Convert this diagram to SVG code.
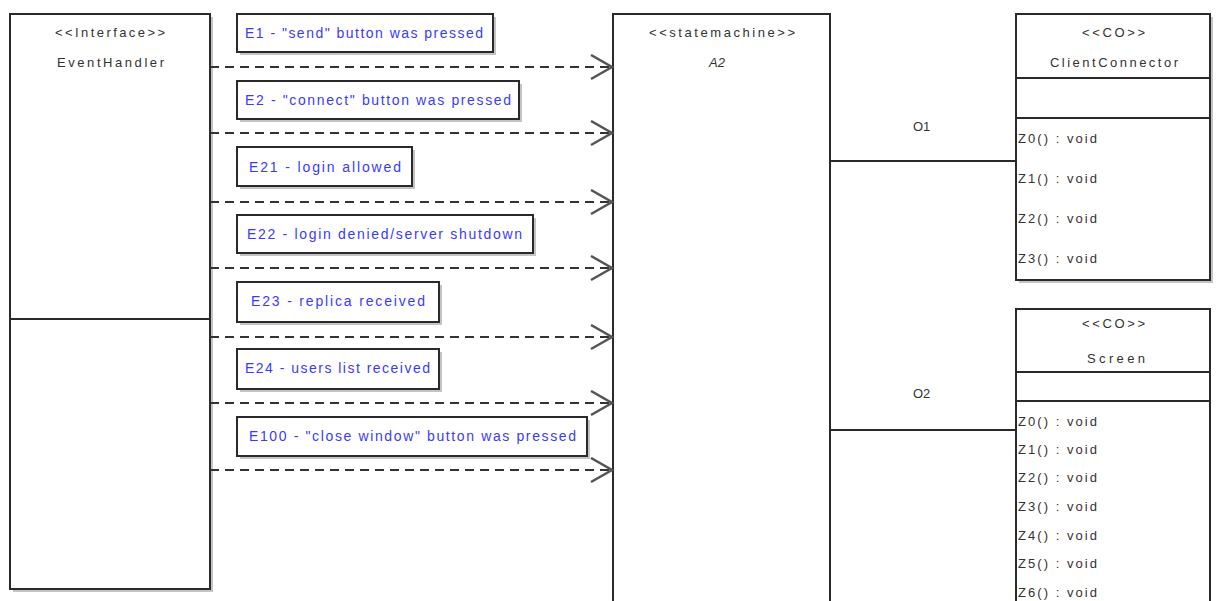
<svg xmlns="http://www.w3.org/2000/svg" width="1216" height="601" viewBox="0 0 1216 601">
<style>
.box{fill:#fff;stroke:#2a2a2a;stroke-width:2}
.shadow{fill:#c4c4c4}
.t{font-family:"Liberation Sans",Arial,sans-serif;font-size:13px;fill:#333}
.lbl{font-family:"Liberation Sans",Arial,sans-serif;font-size:14px;fill:#3a3aff}
.dash{fill:none;stroke:#333;stroke-width:2;stroke-dasharray:9 6}
.line{fill:none;stroke:#2a2a2a;stroke-width:2}
.sep{stroke:#2a2a2a;stroke-width:2}
</style>
<defs>
<marker id="open" markerUnits="userSpaceOnUse" markerWidth="26" markerHeight="30" refX="22" refY="13" orient="auto">
<polyline points="1,1 22,13 1,25" fill="none" stroke="#555" stroke-width="2.5"/>
</marker>
</defs>
<rect width="1216" height="601" fill="#fff"/>

<g id="EventHandler">
<rect class="shadow" x="13" y="17" width="200" height="575"/>
<rect class="box" x="10" y="14" width="200" height="575"/>
<line class="sep" x1="10" y1="319" x2="210" y2="319"/>
<text class="t" x="55" y="37" textLength="110" lengthAdjust="spacing">&lt;&lt;Interface&gt;&gt;</text>
<text class="t" x="57" y="67" textLength="107" lengthAdjust="spacing">EventHandler</text>
</g>

<g id="A2">
<rect class="box" x="613" y="14" width="217" height="600"/>
<text class="t" x="649" y="37" textLength="146" lengthAdjust="spacing">&lt;&lt;statemachine&gt;&gt;</text>
<text class="t" x="709" y="67" font-style="italic">A2</text>
</g>

<g id="ClientConnector">
<rect class="shadow" x="1019" y="17" width="194" height="266"/>
<rect class="box" x="1016" y="14" width="194" height="266"/>
<line class="sep" x1="1016" y1="78" x2="1210" y2="78"/>
<line class="sep" x1="1016" y1="118" x2="1210" y2="118"/>
<text class="t" x="1082" y="37" textLength="63" lengthAdjust="spacing">&lt;&lt;CO&gt;&gt;</text>
<text class="t" x="1050" y="67" textLength="128" lengthAdjust="spacing">ClientConnector</text>
<text class="t" x="1018" y="143" textLength="79" lengthAdjust="spacing">Z0() : void</text>
<text class="t" x="1018" y="183" textLength="79" lengthAdjust="spacing">Z1() : void</text>
<text class="t" x="1018" y="223" textLength="79" lengthAdjust="spacing">Z2() : void</text>
<text class="t" x="1018" y="263" textLength="79" lengthAdjust="spacing">Z3() : void</text>
</g>

<g id="Screen">
<rect class="box" x="1016" y="309" width="194" height="310"/>
<line class="sep" x1="1016" y1="372" x2="1210" y2="372"/>
<line class="sep" x1="1016" y1="401" x2="1210" y2="401"/>
<text class="t" x="1082" y="328" textLength="63" lengthAdjust="spacing">&lt;&lt;CO&gt;&gt;</text>
<text class="t" x="1087" y="363" textLength="58" lengthAdjust="spacing">Screen</text>
<text class="t" x="1018" y="426" textLength="79" lengthAdjust="spacing">Z0() : void</text>
<text class="t" x="1018" y="454" textLength="79" lengthAdjust="spacing">Z1() : void</text>
<text class="t" x="1018" y="482" textLength="79" lengthAdjust="spacing">Z2() : void</text>
<text class="t" x="1018" y="511" textLength="79" lengthAdjust="spacing">Z3() : void</text>
<text class="t" x="1018" y="540" textLength="79" lengthAdjust="spacing">Z4() : void</text>
<text class="t" x="1018" y="568" textLength="79" lengthAdjust="spacing">Z5() : void</text>
<text class="t" x="1018" y="597" textLength="79" lengthAdjust="spacing">Z6() : void</text>
</g>

<g id="connectors">
<path class="dash" d="M210,67 H612" marker-end="url(#open)"/>
<path class="dash" d="M210,133 H612" marker-end="url(#open)"/>
<path class="dash" d="M210,202 H612" marker-end="url(#open)"/>
<path class="dash" d="M210,268 H612" marker-end="url(#open)"/>
<path class="dash" d="M210,337 H612" marker-end="url(#open)"/>
<path class="dash" d="M210,403 H612" marker-end="url(#open)"/>
<path class="dash" d="M210,470 H612" marker-end="url(#open)"/>
<path class="line" d="M830,161 H1016"/>
<path class="line" d="M830,430 H1016"/>
<text class="t" x="913" y="131">O1</text>
<text class="t" x="913" y="398">O2</text>
</g>

<g id="E1">
<rect class="shadow" x="240" y="17" width="256" height="38"/>
<rect class="box" x="237" y="14" width="256" height="38"/>
<text class="lbl" x="245" y="38" textLength="238" lengthAdjust="spacing">E1 - "send" button was pressed</text>
</g>
<g id="E2">
<rect class="shadow" x="240" y="84" width="282" height="38"/>
<rect class="box" x="237" y="81" width="282" height="38"/>
<text class="lbl" x="245" y="105" textLength="266" lengthAdjust="spacing">E2 - "connect" button was pressed</text>
</g>
<g id="E21">
<rect class="shadow" x="240" y="150" width="175" height="39"/>
<rect class="box" x="237" y="147" width="175" height="39"/>
<text class="lbl" x="249" y="172" textLength="152" lengthAdjust="spacing">E21 - login allowed</text>
</g>
<g id="E22">
<rect class="shadow" x="240" y="218" width="296" height="38"/>
<rect class="box" x="237" y="215" width="296" height="38"/>
<text class="lbl" x="247" y="239" textLength="275" lengthAdjust="spacing">E22 - login denied/server shutdown</text>
</g>
<g id="E23">
<rect class="shadow" x="240" y="285" width="202" height="40"/>
<rect class="box" x="237" y="282" width="202" height="40"/>
<text class="lbl" x="251" y="306" textLength="174" lengthAdjust="spacing">E23 - replica received</text>
</g>
<g id="E24">
<rect class="shadow" x="240" y="352" width="202" height="40"/>
<rect class="box" x="237" y="349" width="202" height="40"/>
<text class="lbl" x="245" y="373" textLength="185" lengthAdjust="spacing">E24 - users list received</text>
</g>
<g id="E100">
<rect class="shadow" x="240" y="420" width="350" height="39"/>
<rect class="box" x="237" y="417" width="350" height="39"/>
<text class="lbl" x="249" y="441" textLength="327" lengthAdjust="spacing">E100 - "close window" button was pressed</text>
</g>
</svg>
